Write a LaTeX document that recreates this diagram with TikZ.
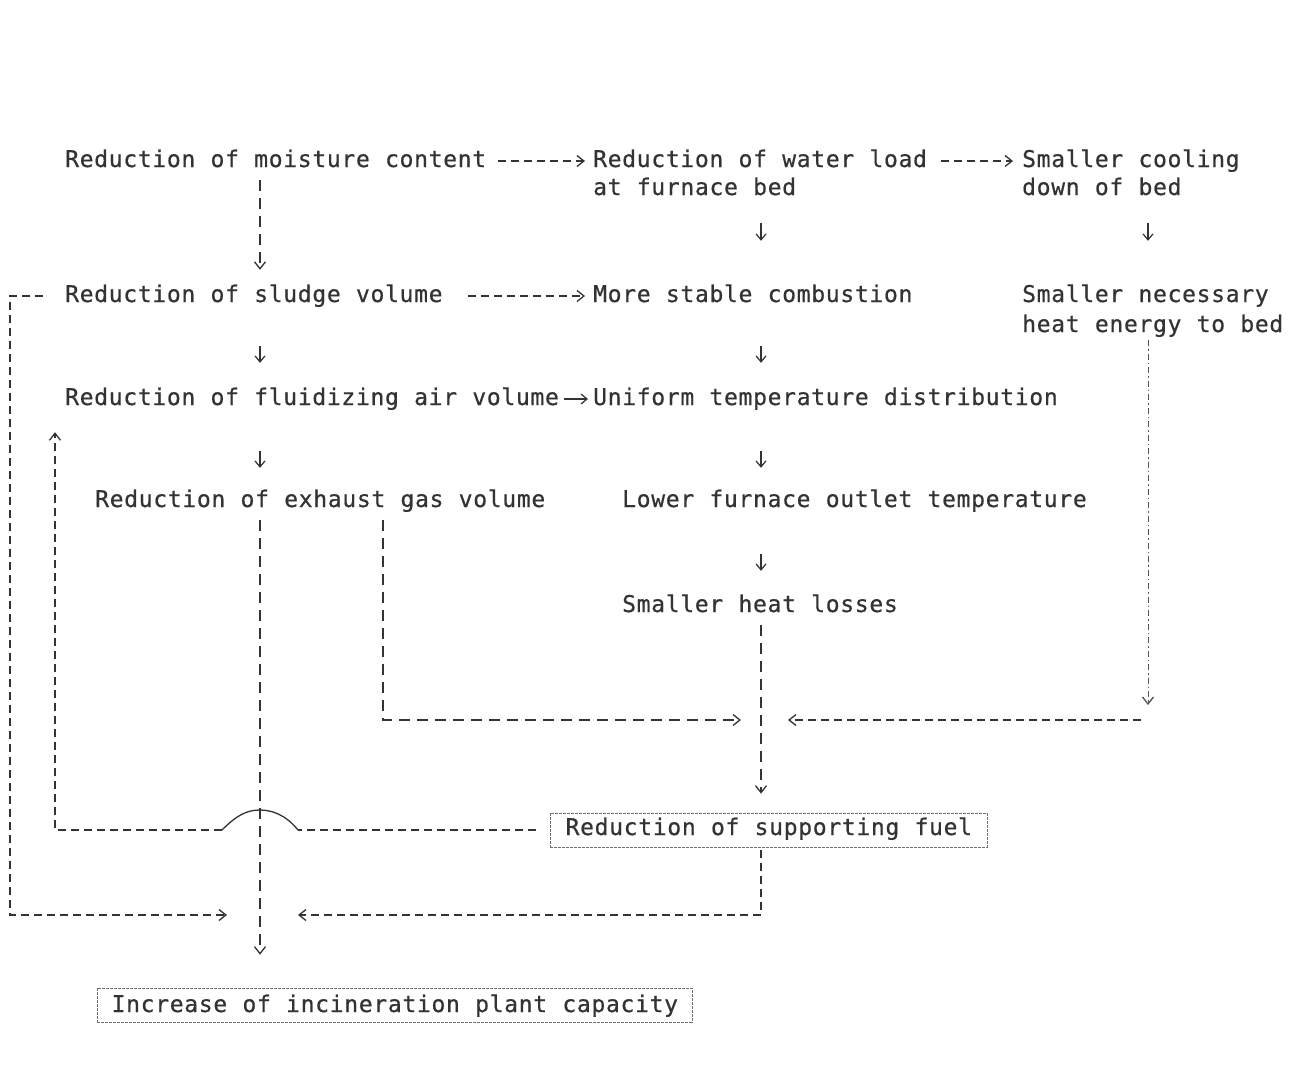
\documentclass[tikz,border=0pt]{standalone}
\usepackage{fontspec}
\newfontfamily\monof[LetterSpace=3.0,WordSpace=1.05,FakeBold=0.6]{DejaVu Sans Mono}
\usetikzlibrary{arrows.meta,calc}
\definecolor{ink}{HTML}{333333}
\begin{document}
\begin{tikzpicture}[x=1pt,y=-1pt,
  txt/.style={anchor=base west,inner sep=0pt,text height=15pt,text depth=3pt,
    font=\monof\fontsize{23}{28}\selectfont,text=ink},
  boxed/.style={txt,draw=ink!70,line width=0.7pt,dash pattern=on 3pt off 1pt,inner xsep=11pt},
  ahead/.style={-{Straight Barb[length=7pt,width=11pt,line width=1.3pt]}},
  dl/.style={draw=ink,line width=1.5pt,dash pattern=on 8pt off 5pt},
  dv/.style={draw=ink,line width=1.3pt,dash pattern=on 11pt off 7pt},
  dd/.style={draw=ink!85,line width=1pt,dash pattern=on 6pt off 3pt on 1.5pt off 3pt},
  sa/.style={draw=ink,line width=1.1pt,-{Straight Barb[length=6pt,width=10pt,line width=1.2pt]}}]
\useasboundingbox[fill=white] (0,0) rectangle (1293,1074);

\coordinate (colA) at (260,0);
\coordinate (colB) at (761,0);
\coordinate (colC) at (1148,0);
\coordinate (colL1) at (10,0);
\coordinate (colL2) at (55,0);
\coordinate (colV2) at (383,0);
\coordinate (j1) at (260,915);
\coordinate (j3) at (761,720);
\coordinate (j4) at (1148,720);

\node[txt] (t1) at (65,167) {Reduction of moisture content};
\node[txt] (t2a) at (593,167) {Reduction of water load};
\node[txt] (t2b) at (593,195) {at furnace bed};
\node[txt] (t3a) at (1022,167) {Smaller cooling};
\node[txt] (t3b) at (1022,195) {down of bed};
\node[txt] (t4) at (65,302) {Reduction of sludge volume};
\node[txt] (t5) at (593,302) {More stable combustion};
\node[txt] (t6a) at (1022,302) {Smaller necessary};
\node[txt] (t6b) at (1022,332) {heat energy to bed};
\node[txt] (t7) at (65,405) {Reduction of fluidizing air volume};
\node[txt] (t8) at (593,405) {Uniform temperature distribution};
\node[txt] (t9) at (95,507) {Reduction of exhaust gas volume};
\node[txt] (t10) at (622,507) {Lower furnace outlet temperature};
\node[txt] (t11) at (622,612) {Smaller heat losses};
\node[boxed,text height=22pt,text depth=12pt,minimum width=437pt] (t12) at (550,835) {Reduction of supporting fuel};
\node[boxed,text height=24pt,text depth=10pt,minimum width=595pt] (t13) at (97,1012) {Increase of incineration plant capacity};

% horizontal dashed arrows
\draw[dl,ahead,shorten <=12pt,shorten >=8pt] (t1.east) -- (t1.east -| t2a.west);
\draw[dl,ahead,shorten <=14pt,shorten >=9pt] (t2a.east) -- (t2a.east -| t3a.west);
\draw[dl,ahead,shorten <=25pt,shorten >=8pt] (t4.east) -- (t4.east -| t5.west);
\draw[dv,ahead,shorten <=10pt,shorten >=17pt] (t1.south -| colA) -- (t4.north -| colA);

% short solid arrows
\draw[sa,shorten <=25pt,shorten >=46pt] (t2b.south -| colB) -- (t5.north -| colB);
\draw[sa,shorten <=25pt,shorten >=46pt] (t3b.south -| colC) -- (t6a.north -| colC);
\draw[sa,shorten <=41pt,shorten >=27pt] (t4.south -| colA) -- (t7.north -| colA);
\draw[sa,shorten <=41pt,shorten >=27pt] (t5.south -| colB) -- (t8.north -| colB);
\draw[sa,shorten <=43pt,shorten >=24pt] (t7.south -| colA) -- (t9.north -| colA);
\draw[sa,shorten <=43pt,shorten >=24pt] (t8.south -| colB) -- (t10.north -| colB);
\draw[sa,shorten <=44pt,shorten >=26pt] (t10.south -| colB) -- (t11.north -| colB);
\draw[sa,shorten <=5pt,shorten >=5pt] (t7.east) -- (t7.east -| t8.west);

% left loop from sludge volume
\draw[dl,ahead,shorten <=22pt,shorten >=33pt] (t4.west) -| (colL1 |- j1) -- (j1);

% supporting fuel back to fluidizing air, with hop
\coordinate (hopC) at (t12.west -| colA);
\draw[dl,shorten <=14pt] (t12.west) -- ($(hopC)+(38,0)$);
\draw[ink,line width=1.3pt] ($(hopC)+(38,0)$) .. controls ($(hopC)+(26,-15)$) and ($(hopC)+(12,-20)$) .. ($(hopC)+(0,-20)$) .. controls ($(hopC)+(-14,-20)$) and ($(hopC)+(-24,-14)$) .. ($(hopC)+(-38,0)$);
\draw[dl,ahead,shorten >=24pt] ($(hopC)+(-38,0)$) -- (colL2 |- hopC) -- (colL2 |- t7.south);

% vertical from exhaust gas to capacity
\draw[dv,ahead,shorten <=10pt,shorten >=33pt] (t9.south -| colA) -- (t13.north -| colA);
% exhaust gas to junction
\draw[dv,ahead,shorten <=10pt,shorten >=20pt] (t9.south -| colV2) -- (colV2 |- j3) -- (j3);
% heat losses to supporting fuel
\draw[dv,ahead,shorten <=10pt,shorten >=19pt] (t11.south -| colB) -- (t12.north -| colB);
% necessary heat energy down, then left
\draw[dd,ahead,shorten <=5pt,shorten >=15pt] (t6b.south -| colC) -- (j4);
\draw[dl,ahead,shorten <=7pt,shorten >=27pt] (j4) -- (j3);
% supporting fuel to capacity
\draw[dl,ahead,shorten <=3pt,shorten >=38pt] (t12.south -| colB) -- (colB |- j1) -- (j1);
\end{tikzpicture}
\end{document}
